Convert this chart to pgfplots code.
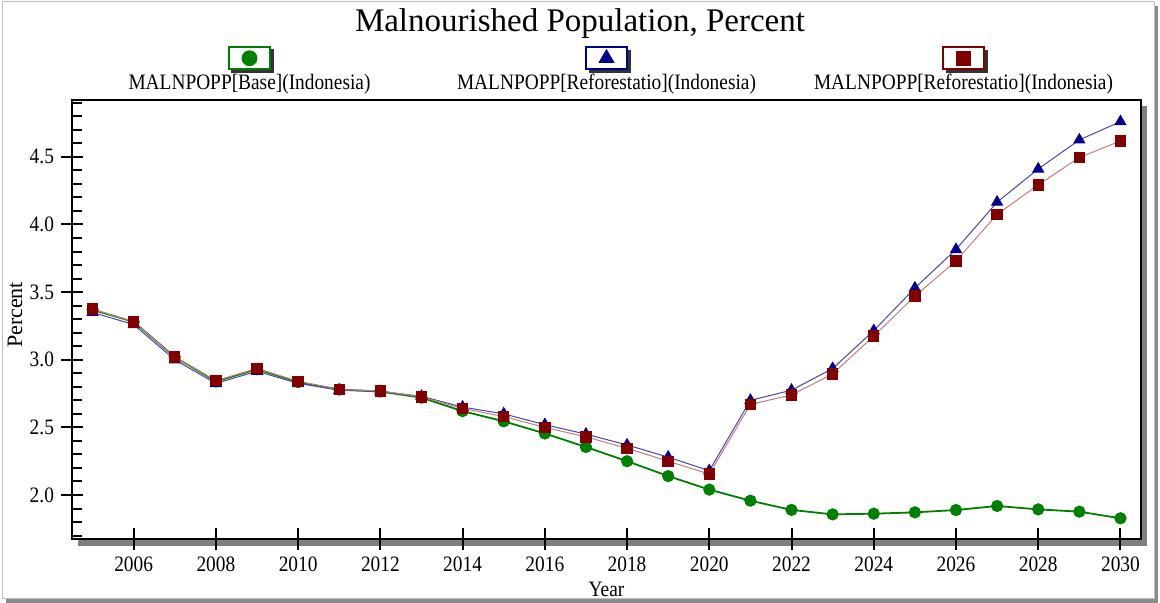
\documentclass[border=0pt]{standalone}
\usepackage{pgfplots}
\usepackage{pgfplotstable}
\pgfplotsset{compat=1.18}
\usepackage{fontspec}
\setmainfont{Liberation Serif}
\newfontfamily\condfont[FakeStretch=0.88]{Liberation Serif}

\definecolor{basegreen}{RGB}{0,128,0}
\definecolor{refblue}{RGB}{0,0,140}
\definecolor{refblueline}{RGB}{70,70,175}
\definecolor{refred}{RGB}{128,0,0}
\definecolor{refredline}{RGB}{195,125,125}

% Malnourished population, percent of total (Indonesia)
\pgfplotstableread{
year  base   reforA  reforB
2005  3.370  3.350   3.375
2006  3.280  3.260   3.280
2007  3.020  3.000   3.020
2008  2.840  2.825   2.845
2009  2.930  2.915   2.935
2010  2.835  2.825   2.840
2011  2.780  2.775   2.780
2012  2.765  2.765   2.770
2013  2.720  2.730   2.725
2014  2.620  2.650   2.640
2015  2.545  2.600   2.580
2016  2.455  2.520   2.500
2017  2.355  2.450   2.430
2018  2.250  2.370   2.345
2019  2.140  2.280   2.250
2020  2.040  2.180   2.155
2021  1.958  2.700   2.670
2022  1.890  2.775   2.740
2023  1.857  2.935   2.895
2024  1.862  3.215   3.175
2025  1.872  3.530   3.470
2026  1.889  3.815   3.730
2027  1.919  4.165   4.075
2028  1.894  4.410   4.292
2029  1.877  4.625   4.495
2030  1.828  4.760   4.617
}\malnpopp

% boxed legend symbol drawn above the centred legend text
\newcommand{\legendicon}[3]{%
  \begin{scope}[overlay, shift={(89.25pt,12.75pt)}]
    \fill[black!80] (-8.75pt,-7pt) rectangle (11.75pt,4pt);
    \draw[#1, fill=white, line width=0.8pt] (-10.25pt,-5.5pt) rectangle (10.25pt,5.5pt);
    \path plot[mark=#2, mark size=#3, mark options={fill=#1, draw=#1, solid}] coordinates {(0pt,0pt)};
  \end{scope}}

\begin{document}
\begin{tikzpicture}[x=0.5pt,y=0.5pt]
\useasboundingbox (0,0) rectangle (1160,603);
% page frame with drop shadow
\fill[black!45] (6,0) rectangle (1158,597);
\fill[white, draw=black!25, line width=0.5pt] (2,4) rectangle (1154,601);
% plot frame shadow
\fill[black!50] (78,57) rectangle (1147,497);

\node[anchor=base, font=\fontsize{16.5}{20}\selectfont] at (580,571) {Malnourished Population, Percent};
\node[anchor=base, font=\condfont\fontsize{11}{13}\selectfont] at (606.5,6) {Year};
\node[rotate=90, font=\fontsize{11}{13}\selectfont] at (15,288) {Percent};

\begin{axis}[
  at={(36pt,32pt)}, anchor=south west,
  scale only axis, width=534.5pt, height=219.5pt,
  xmin=2004.5, xmax=2030.5, ymin=1.675, ymax=4.92,
  axis background/.style={fill=white},
  axis line style={line width=1.3pt},
  xtick={2006,2008,...,2030},
  ytick={2.0,2.5,3.0,3.5,4.0,4.5},
  minor ytick={1.7,1.8,1.9,2.1,2.2,2.3,2.4,2.6,2.7,2.8,2.9,3.1,3.2,3.3,3.4,3.6,3.7,3.8,3.9,4.1,4.2,4.3,4.4,4.6,4.7,4.8,4.9},
  xtick pos=lower, ytick pos=left,
  tick align=center,
  major tick length=11pt, minor tick length=5pt,
  tick style={line width=1pt, black},
  minor y tick style={xshift=2.5pt},
  xticklabel style={/pgf/number format/1000 sep={}},
  yticklabel style={/pgf/number format/.cd, fixed, fixed zerofill, precision=1},
  ticklabel style={font=\condfont\fontsize{11}{13}\selectfont},
  /pgf/number format/assume math mode=true,
  legend columns=3,
  legend style={at={(0.5,1)}, anchor=south, yshift=3.5pt, draw=none, fill=none,
    inner sep=0pt, outer sep=0pt, column sep=0pt,
    nodes={inner sep=0pt, text width=178.5pt, align=center,
      font=\condfont\fontsize{11}{13}\selectfont}},
]
\addplot[basegreen, line width=0.9pt, mark=*, mark size=2.6pt,
  mark options={fill=basegreen, draw=basegreen},
  legend image code/.code={\legendicon{basegreen}{*}{3.5pt}}]
  table[x=year, y=base] {\malnpopp};
\addlegendentry{MALNPOPP[Base](Indonesia)}
\addplot[refblueline, line width=0.5pt, mark=triangle*, mark size=3.1pt,
  mark options={fill=refblue, draw=refblue},
  legend image code/.code={\legendicon{refblue}{triangle*}{4.2pt}}]
  table[x=year, y=reforA] {\malnpopp};
\addlegendentry{MALNPOPP[Reforestatio](Indonesia)}
\addplot[refredline, line width=0.5pt, mark=square*, mark size=2.6pt,
  mark options={fill=refred, draw=refred},
  legend image code/.code={\legendicon{refred}{square*}{3.6pt}}]
  table[x=year, y=reforB] {\malnpopp};
\addlegendentry{MALNPOPP[Reforestatio](Indonesia)}
\end{axis}
\end{tikzpicture}
\end{document}
